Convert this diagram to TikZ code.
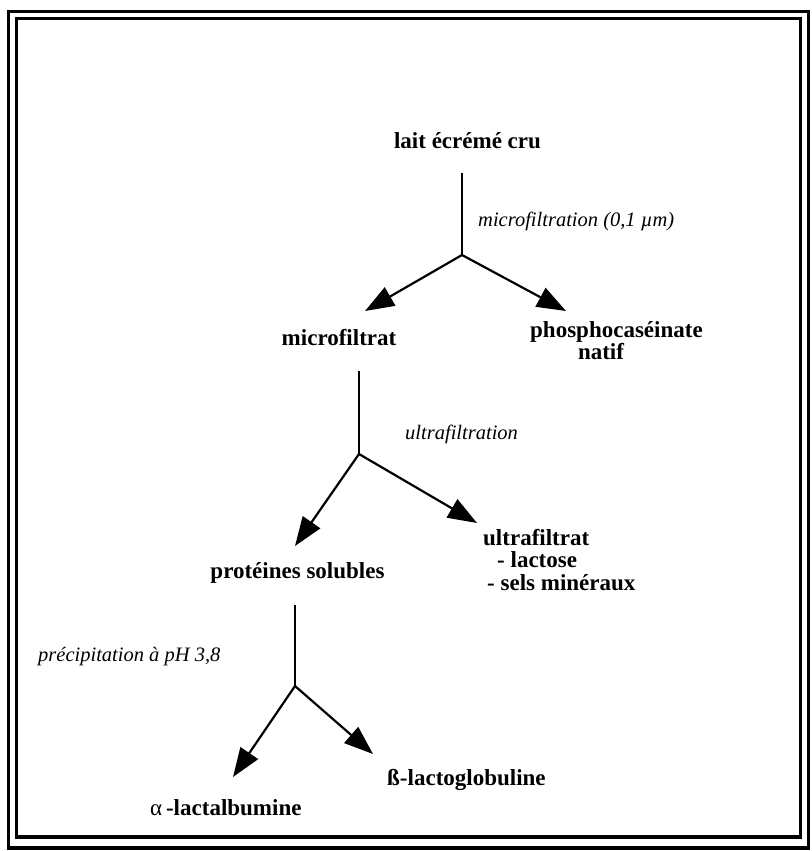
\documentclass[tikz,border=0pt]{standalone}
\usepackage{fontspec}
\setmainfont{Liberation Serif}
\usetikzlibrary{arrows.meta}
\begin{document}
\begin{tikzpicture}[x=1pt,y=-1pt,
  lbl/.style={font=\fontsize{23}{27}\selectfont\bfseries, inner sep=0pt},
  op/.style={font=\fontsize{20.5}{25}\selectfont\itshape, inner sep=0pt},
  ln/.style={line width=2.2pt},
  arr/.style={line width=2.2pt, -{Triangle[length=29pt,width=21pt]}},
  frame/.style={line width=3.5pt}]
\useasboundingbox (0,0) rectangle (811,851);
% frames
\draw[frame] (8.5,11.5) rectangle (808.5,848);
\draw[frame] (16.5,18.5) rectangle (800.5,837);
% texts
\node[lbl, anchor=base] (lait) at (467.5,148) {lait écrémé cru};
\node[op, anchor=base west] (mf) at (478,226) {microfiltration (0,1 µm)};
\node[lbl, anchor=base] (mfil) at (339,345) {microfiltrat};
\node[lbl, anchor=base west] (phos) at (530,337) {phosphocaséinate};
\node[lbl, anchor=base] (natif) at (601,359) {natif};
\node[op, anchor=base west] (uf) at (405,439) {ultrafiltration};
\node[lbl, anchor=base west] (ufil) at (483,545) {ultrafiltrat};
\node[lbl, anchor=base west] (lact) at (497,567) {- lactose};
\node[lbl, anchor=base west] (sels) at (487,590) {- sels minéraux};
\node[lbl, anchor=base] (prot) at (297.5,578) {protéines solubles};
\node[op, anchor=base west] (prec) at (38,661) {précipitation à pH 3,8};
\node[lbl, anchor=base west] (beta) at (387,785) {ß-lactoglobuline};
\node[lbl, anchor=base west] (alpha) at (150,815) {\mdseries α\,\bfseries-lactalbumine};
% connector points
\coordinate (s1) at (462,173);
\coordinate (j1) at (462,255);
\coordinate (a1) at (365,311);
\coordinate (b1) at (566,311);
\coordinate (s2) at (359,371);
\coordinate (j2) at (359,454);
\coordinate (a2) at (295,546);
\coordinate (b2) at (477,523);
\coordinate (s3) at (295,605);
\coordinate (j3) at (295,686);
\coordinate (a3) at (233,777);
\coordinate (b3) at (373,754);
% connectors
\draw[ln] (s1) -- (j1);
\draw[arr] (j1) -- (a1);
\draw[arr] (j1) -- (b1);
\draw[ln] (s2) -- (j2);
\draw[arr] (j2) -- (a2);
\draw[arr] (j2) -- (b2);
\draw[ln] (s3) -- (j3);
\draw[arr] (j3) -- (a3);
\draw[arr] (j3) -- (b3);
\end{tikzpicture}
\end{document}
